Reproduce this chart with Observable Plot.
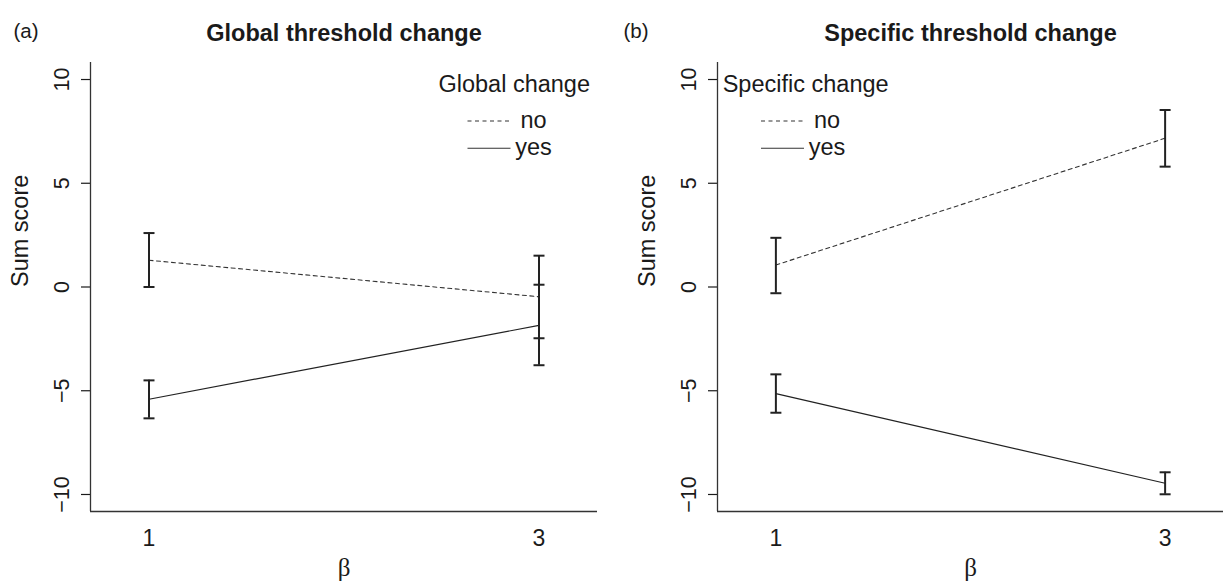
<!DOCTYPE html>
<html><head><meta charset="utf-8">
<script src="https://cdn.jsdelivr.net/npm/d3@7"></script>
<script src="https://cdn.jsdelivr.net/npm/@observablehq/plot@0.6"></script>
<style>
body{margin:0;background:#fff;}
#wrap{display:flex;width:1223px;height:586px;overflow:hidden;background:#fff;}
#wrap svg{flex:none;overflow:visible;}
</style></head><body><div id="wrap"></div>
<script>
// ---- data ----
const betaValues = [1, 3];
const yTicks = [-10, -5, 0, 5, 10];
const xDomain = [0.7, 3.3];
const yDomain = [-10.82, 10.82];

// panel (a): global threshold change
const globalNoMean = [1.29, -0.47];
const globalNoLo   = [0.00, -2.47];
const globalNoHi   = [2.60, 1.51];
const globalYesMean = [-5.41, -1.85];
const globalYesLo   = [-6.33, -3.77];
const globalYesHi   = [-4.50, 0.11];

// panel (b): specific threshold change
const specificNoMean = [1.06, 7.17];
const specificNoLo   = [-0.30, 5.80];
const specificNoHi   = [2.37, 8.53];
const specificYesMean = [-5.14, -9.46];
const specificYesLo   = [-6.06, -9.99];
const specificYesHi   = [-4.21, -8.93];

const panelTags = ["(a)", "(b)"];
const panelTitles = ["Global threshold change", "Specific threshold change"];
const legendTitles = ["Global change", "Specific change"];
const legendLabels = ["no", "yes"];
const yLabel = "Sum score";
const xLabel = "\u03b2";

// ---- helpers ----
const FONT = "'Liberation Sans', Arial, Helvetica, sans-serif";
const INK = "#1a1a1a";
function rows(mean, lo, hi, group) {
  return betaValues.map((b, i) => ({beta: b, mean: mean[i], lo: lo[i], hi: hi[i], group}));
}
const capSymbol = {
  draw(ctx, size) { const r = Math.sqrt(size / Math.PI); ctx.moveTo(-r, 0); ctx.lineTo(r, 0); }
};
const fmt = d => d < 0 ? "\u2212" + Math.abs(d) : String(d);

function legendMark(title, side) {
  return (index, scales, values, dims) => {
    const g = d3.create("svg:g")
      .attr("font-family", FONT).attr("font-size", 23.5).attr("fill", INK);
    let titleX, anchor, lx0, lx1, tx;
    if (side === "right") {
      const r = dims.width - dims.marginRight;
      titleX = r - 7; anchor = "end"; lx0 = r - 129.5; lx1 = r - 86.5; tx = r - 63.5;
    } else {
      const l = dims.marginLeft;
      titleX = l + 5.7; anchor = "start"; lx0 = l + 44; lx1 = l + 87; tx = l + 110;
    }
    g.append("text").attr("x", titleX).attr("y", 91.5).attr("text-anchor", anchor).text(title);
    const ys = [[121, 128.3], [148.3, 154.5]];
    legendLabels.forEach((lab, i) => {
      g.append("line").attr("x1", lx0).attr("x2", lx1).attr("y1", ys[i][0]).attr("y2", ys[i][0])
        .attr("stroke", "#333").attr("stroke-width", 1.1)
        .attr("stroke-dasharray", i === 0 ? "4,3.5" : null);
      g.append("text").attr("x", tx).attr("y", ys[i][1]).text(lab);
    });
    return g.node();
  };
}

function panel({width, marginLeft, marginRight, no, yes, tag, tagDx, title, legTitle, side}) {
  const both = no.concat(yes);
  return Plot.plot({
    width, height: 586, marginTop: 62, marginBottom: 75, marginLeft, marginRight,
    x: {domain: xDomain},
    y: {domain: yDomain},
    style: {fontFamily: FONT, color: INK, background: "#fff", overflow: "visible"},
    marks: [
      Plot.axisY({ticks: yTicks, tickSize: 9, tickRotate: -90, tickPadding: 13, fontSize: 21.5,
                  tickFormat: fmt, label: null, strokeWidth: 1.2}),
      Plot.axisX({ticks: betaValues, tickSize: 0, tickPadding: 18, fontSize: 23,
                  tickFormat: d => String(d), label: null}),
      Plot.ruleX([xDomain[0]], {stroke: "#333", strokeWidth: 1.3}),
      Plot.ruleY([yDomain[0]], {stroke: "#333", strokeWidth: 1.3}),
      Plot.line(no, {x: "beta", y: "mean", stroke: "#333", strokeWidth: 1.1, strokeDasharray: "4,3.5"}),
      Plot.line(yes, {x: "beta", y: "mean", stroke: "#222", strokeWidth: 1.2}),
      Plot.ruleX(both, {x: "beta", y1: "lo", y2: "hi", stroke: "#222", strokeWidth: 2}),
      Plot.dot(both, {x: "beta", y: "lo", symbol: capSymbol, r: 5.5, fill: "none", stroke: "#222", strokeWidth: 2}),
      Plot.dot(both, {x: "beta", y: "hi", symbol: capSymbol, r: 5.5, fill: "none", stroke: "#222", strokeWidth: 2}),
      Plot.text([yLabel], {frameAnchor: "left", rotate: -90, dx: -70.5, fontSize: 23.5, fill: INK}),
      Plot.text([xLabel], {frameAnchor: "bottom", dy: 64, fontSize: 25, fill: INK,
                           fontFamily: "'Liberation Serif', 'DejaVu Serif', serif"}),
      Plot.text([title], {frameAnchor: "top", dy: -38, fontSize: 23.5, fontWeight: "bold", fill: INK}),
      Plot.text([tag], {frameAnchor: "top-left", dx: tagDx, dy: -39, fontSize: 20.5, textAnchor: "start", fill: INK}),
      legendMark(legTitle, side)
    ]
  });
}

const wrap = document.getElementById("wrap");
wrap.append(panel({
  width: 611, marginLeft: 90, marginRight: 14,
  no: rows(globalNoMean, globalNoLo, globalNoHi, "no"),
  yes: rows(globalYesMean, globalYesLo, globalYesHi, "yes"),
  tag: panelTags[0], tagDx: -77, title: panelTitles[0], legTitle: legendTitles[0], side: "right"
}));
wrap.append(panel({
  width: 612, marginLeft: 106, marginRight: 0,
  no: rows(specificNoMean, specificNoLo, specificNoHi, "no"),
  yes: rows(specificYesMean, specificYesLo, specificYesHi, "yes"),
  tag: panelTags[1], tagDx: -94, title: panelTitles[1], legTitle: legendTitles[1], side: "left"
}));
</script>
</body></html>
